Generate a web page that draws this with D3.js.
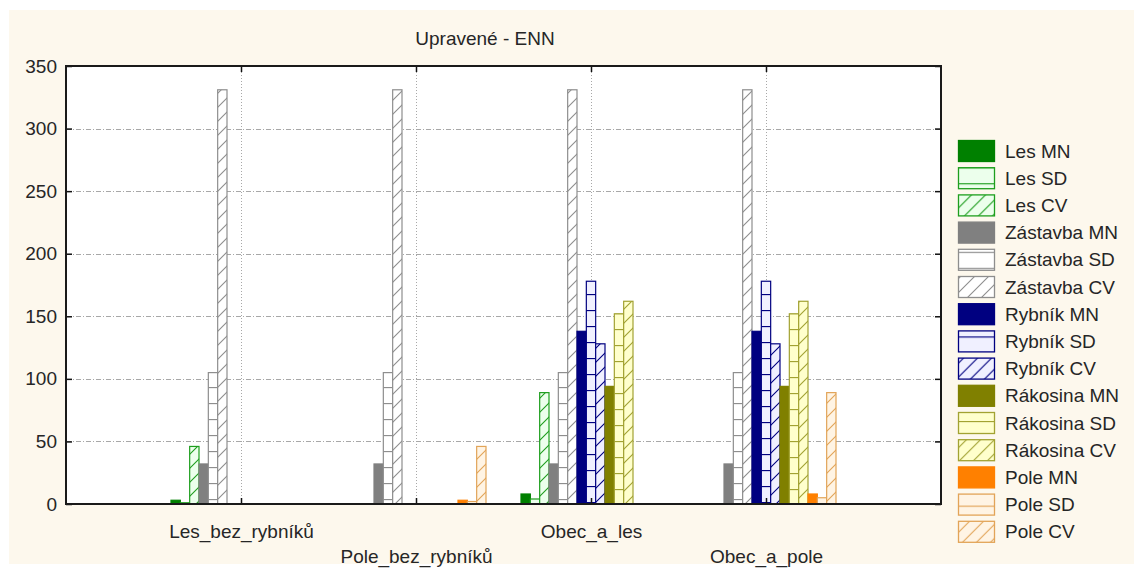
<!DOCTYPE html>
<html>
<head>
<meta charset="utf-8">
<script src="https://cdn.jsdelivr.net/npm/d3@7"></script>
<style>
  html, body { margin: 0; padding: 0; background: #ffffff; }
  svg { display: block; }
  text { font-family: "Liberation Sans", Arial, sans-serif; fill: #262626; }
</style>
</head>
<body>
<svg id="chart" width="1143" height="574"></svg>
<script>
// ---------- data ----------
const categories = ["Les_bez_rybníků", "Pole_bez_rybníků", "Obec_a_les", "Obec_a_pole"];
const seriesNames = ["Les MN", "Les SD", "Les CV",
  "Zástavba MN", "Zástavba SD", "Zástavba CV",
  "Rybník MN", "Rybník SD", "Rybník CV",
  "Rákosina MN", "Rákosina SD", "Rákosina CV",
  "Pole MN", "Pole SD", "Pole CV"];
const lesMN       = [3, 0, 8, 0];
const lesSD       = [1, 0, 4, 0];
const lesCV       = [46, 0, 89, 0];
const zastavbaMN  = [32, 32, 32, 32];
const zastavbaSD  = [105, 105, 105, 105];
const zastavbaCV  = [331, 331, 331, 331];
const rybnikMN    = [0, 0, 138, 138];
const rybnikSD    = [0, 0, 178, 178];
const rybnikCV    = [0, 0, 128, 128];
const rakosinaMN  = [0, 0, 94, 94];
const rakosinaSD  = [0, 0, 152, 152];
const rakosinaCV  = [0, 0, 162, 162];
const poleMN      = [0, 3, 0, 8];
const poleSD      = [0, 2, 0, 5];
const poleCV      = [0, 46, 0, 89];
const yTicks = [0, 50, 100, 150, 200, 250, 300, 350];
const title = "Upravené - ENN";

const seriesValues = [lesMN, lesSD, lesCV, zastavbaMN, zastavbaSD, zastavbaCV,
  rybnikMN, rybnikSD, rybnikCV, rakosinaMN, rakosinaSD, rakosinaCV, poleMN, poleSD, poleCV];

// ---------- styles ----------
const families = [
  { solid: "#008000", line: "#1e9e1e", tint: "#ecffec" },
  { solid: "#808080", line: "#8e8e8e", tint: "#ffffff" },
  { solid: "#000080", line: "#000080", tint: "#f0f0ff" },
  { solid: "#808000", line: "#a2a232", tint: "#ffffcc" },
  { solid: "#ff8000", line: "#e2a458", tint: "#fff4e4" }
];

const svg = d3.select("#chart");
const W = 1143, H = 574;

// background panel
svg.append("rect").attr("x", 0).attr("y", 0).attr("width", W).attr("height", H).attr("fill", "#ffffff");
svg.append("rect").attr("x", 9).attr("y", 10).attr("width", W - 18).attr("height", H - 20).attr("fill", "#fdf8ed");

// patterns
const defs = svg.append("defs");
families.forEach((f, fi) => {
  const pSD = defs.append("pattern").attr("id", "sd" + fi)
    .attr("patternUnits", "userSpaceOnUse").attr("width", 16).attr("height", 16)
    .attr("y", fi * 3);
  pSD.append("rect").attr("width", 16).attr("height", 16).attr("fill", f.tint);
  pSD.append("line").attr("x1", 0).attr("x2", 16).attr("y1", 0.5).attr("y2", 0.5)
    .attr("stroke", f.line).attr("stroke-width", 1.3);
  const pCV = defs.append("pattern").attr("id", "cv" + fi)
    .attr("patternUnits", "userSpaceOnUse").attr("width", 14).attr("height", 14)
    .attr("y", fi * 3);
  pCV.append("rect").attr("width", 14).attr("height", 14).attr("fill", f.tint);
  pCV.append("path").attr("d", "M-2,16 L16,-2 M-2,2 L2,-2 M12,16 L16,12")
    .attr("stroke", f.line).attr("stroke-width", 1.1).attr("fill", "none");
});
function fillOf(si) {
  const fi = Math.floor(si / 3), k = si % 3;
  if (k === 0) return families[fi].solid;
  return k === 1 ? `url(#sd${fi})` : `url(#cv${fi})`;
}
function strokeOf(si) {
  const fi = Math.floor(si / 3), k = si % 3;
  return k === 0 ? families[fi].solid : families[fi].line;
}

// ---------- scales ----------
const plot = { left: 66, right: 941, top: 66, bottom: 504 };
const x = d3.scaleLinear().domain([0, categories.length + 1]).range([plot.left, plot.right]);
const y = d3.scaleLinear().domain([0, 350]).range([plot.bottom, plot.top]);
const groupW = (x(1) - x(0)) * 0.8;
const xSub = d3.scaleBand().domain(seriesNames).range([-groupW / 2, groupW / 2]).paddingInner(0);

// plot area
svg.append("rect").attr("x", plot.left).attr("y", plot.top)
  .attr("width", plot.right - plot.left).attr("height", plot.bottom - plot.top).attr("fill", "#ffffff");

// horizontal grid
svg.append("g").selectAll("line").data(yTicks.filter(t => t > 0 && t < 350)).join("line")
  .attr("x1", plot.left).attr("x2", plot.right)
  .attr("y1", d => Math.round(y(d)) + 0.5).attr("y2", d => Math.round(y(d)) + 0.5)
  .attr("stroke", "#a8a8a8").attr("stroke-width", 1).attr("stroke-dasharray", "5,2,1,2");

// vertical grid at categories
svg.append("g").selectAll("line").data(categories).join("line")
  .attr("x1", (d, i) => Math.round(x(i + 1)) + 0.5).attr("x2", (d, i) => Math.round(x(i + 1)) + 0.5)
  .attr("y1", plot.top).attr("y2", plot.bottom)
  .attr("stroke", "#a8a8a8").attr("stroke-width", 1).attr("stroke-dasharray", "1,2");

// bars
const barData = [];
seriesValues.forEach((vals, si) => {
  vals.forEach((v, ci) => { if (v > 0) barData.push({ si, ci, v }); });
});
svg.append("g").selectAll("rect").data(barData).join("rect")
  .attr("x", d => x(d.ci + 1) + xSub(seriesNames[d.si]))
  .attr("width", xSub.bandwidth())
  .attr("y", d => y(d.v))
  .attr("height", d => y(0) - y(d.v))
  .attr("fill", d => fillOf(d.si))
  .attr("stroke", d => strokeOf(d.si))
  .attr("stroke-width", 1.2);

// axes
const axL = d3.axisLeft(y).tickValues(yTicks).tickSize(-6).tickPadding(9);
const gL = svg.append("g").attr("transform", `translate(${plot.left},0)`).call(axL);
gL.select(".domain").remove();
gL.selectAll(".tick line").attr("stroke", "#111").attr("stroke-width", 1.5);
gL.selectAll(".tick text").attr("font-size", 19).attr("fill", "#262626")
  .attr("font-family", "Liberation Sans, Arial, sans-serif");

const axR = d3.axisRight(y).tickValues(yTicks).tickSize(-6).tickFormat("");
const gR = svg.append("g").attr("transform", `translate(${plot.right},0)`).call(axR);
gR.select(".domain").remove();
gR.selectAll(".tick line").attr("stroke", "#111").attr("stroke-width", 1.5);

const xPoint = d3.scalePoint().domain(categories).range([x(1), x(categories.length)]);
const axB = d3.axisBottom(xPoint).tickSize(-6).tickPadding(0);
const gB = svg.append("g").attr("transform", `translate(0,${plot.bottom})`).call(axB);
gB.select(".domain").remove();
gB.selectAll(".tick line").attr("stroke", "#111").attr("stroke-width", 1.5);
gB.selectAll(".tick text")
  .attr("font-size", 19).attr("fill", "#262626")
  .attr("font-family", "Liberation Sans, Arial, sans-serif")
  .attr("dy", null)
  .attr("y", (d, i) => i % 2 === 0 ? 34 : 59);

const axT = d3.axisTop(xPoint).tickSize(-6).tickFormat("");
const gT = svg.append("g").attr("transform", `translate(0,${plot.top})`).call(axT);
gT.select(".domain").remove();
gT.selectAll(".tick line").attr("stroke", "#111").attr("stroke-width", 1.5);

// frame
svg.append("rect").attr("x", plot.left).attr("y", plot.top)
  .attr("width", plot.right - plot.left).attr("height", plot.bottom - plot.top)
  .attr("fill", "none").attr("stroke", "#1a1a1a").attr("stroke-width", 2);

// title
svg.append("text").attr("x", 485).attr("y", 45).attr("text-anchor", "middle")
  .attr("font-size", 19).text(title);

// legend
const leg = svg.append("g").attr("transform", "translate(958,140)");
const rowH = 27.2;
const items = leg.selectAll("g").data(seriesNames).join("g")
  .attr("transform", (d, i) => `translate(0,${i * rowH})`);
items.append("rect").attr("x", 0.5).attr("y", 0.5).attr("width", 36).attr("height", 21)
  .attr("fill", (d, i) => fillOf(i)).attr("stroke", (d, i) => strokeOf(i)).attr("stroke-width", 1.3);
items.append("text").attr("x", 47).attr("y", 11).attr("dy", "0.35em")
  .attr("font-size", 19).text(d => d);
</script>
</body>
</html>
